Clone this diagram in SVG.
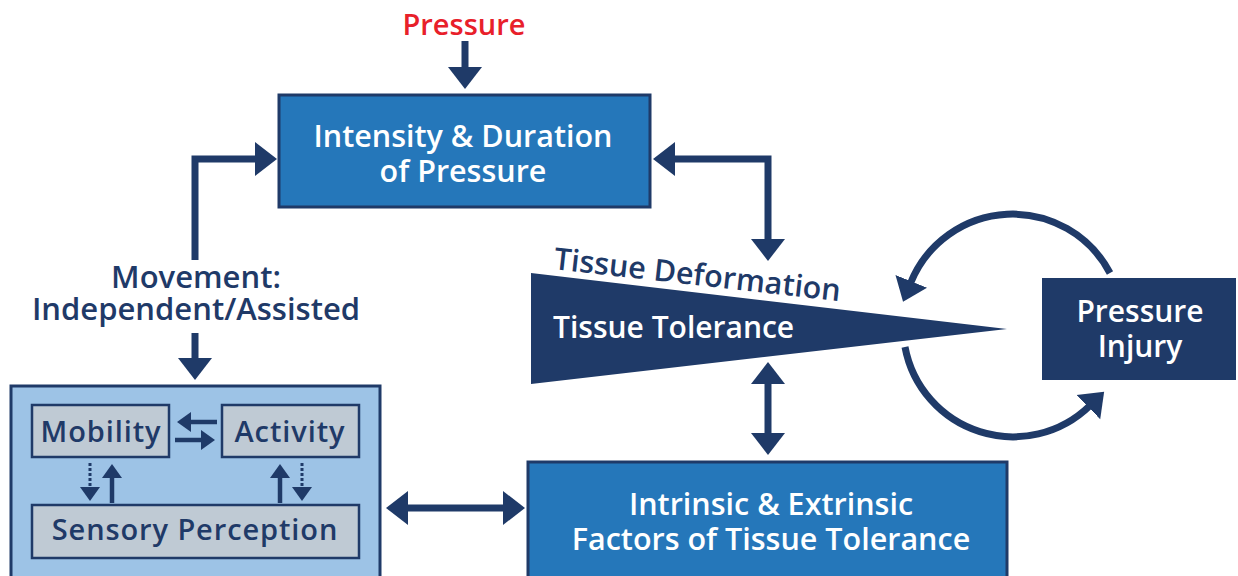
<svg xmlns="http://www.w3.org/2000/svg" width="1238" height="576" viewBox="0 0 1238 576">
<style>
.t{font-family:"Open Sans","Liberation Sans",sans-serif;font-weight:600;text-anchor:middle}
.w{fill:#ffffff}
.d{fill:#1f3a68}
.in{font-size:29px;letter-spacing:0.9px}
.blue{fill:#2577ba;stroke:#1f3a68;stroke-width:3}
.gray{fill:#bfcad4;stroke:#1f3a68;stroke-width:2.5}
.c{fill:none;stroke:#1f3a68;stroke-width:7;stroke-linejoin:miter}
.s{fill:none;stroke:#1f3a68;stroke-width:4.5}
.dot{fill:none;stroke:#1f3a68;stroke-width:3;stroke-dasharray:3 2}
</style>
<defs>
<marker id="ah" markerUnits="userSpaceOnUse" markerWidth="24" markerHeight="36" refX="2" refY="18" orient="auto-start-reverse">
<path d="M0,1 L22,18 L0,35 z" fill="#1f3a68"/>
</marker>
<marker id="as" markerUnits="userSpaceOnUse" markerWidth="16" markerHeight="22" refX="1" refY="11" orient="auto-start-reverse">
<path d="M0,1 L14,11 L0,21 z" fill="#1f3a68"/>
</marker>
</defs>
<rect width="1238" height="576" fill="#ffffff"/>

<g id="pressure-label">
<text class="t" x="464" y="35" font-size="29" fill="#e8202a">Pressure</text>
</g>

<g id="intensity">
<rect class="blue" x="279" y="95" width="371" height="112"/>
<text class="t w" x="463" y="147" font-size="30.5">Intensity &amp; Duration<tspan x="463" dy="35">of Pressure</tspan></text>
</g>

<g id="movement">
<text class="t d" x="196" y="288" font-size="31">Movement:<tspan x="196" dy="32">Independent/Assisted</tspan></text>
</g>

<g id="tissue">
<polygon points="531,273 1007,329 531,384" fill="#1f3a68"/>
<text class="t w" x="553" y="338" font-size="30" style="text-anchor:start">Tissue Tolerance</text>
<text class="t d" x="553" y="269" font-size="30.5" style="text-anchor:start" transform="rotate(6.4 553 269)">Tissue Deformation</text>
</g>

<g id="pressure-injury">
<rect x="1042" y="278" width="194" height="102" fill="#1f3a68"/>
<text class="t w" x="1140" y="322" font-size="30">Pressure<tspan x="1140" dy="35">Injury</tspan></text>
</g>

<g id="factors">
<rect class="blue" x="528" y="462" width="479" height="130"/>
<text class="t w" x="771" y="515" font-size="30.5">Intrinsic &amp; Extrinsic<tspan x="771" dy="35">Factors of Tissue Tolerance</tspan></text>
</g>

<g id="movement-box">
<rect x="11" y="386" width="369" height="210" fill="#9dc3e6" stroke="#1f3a68" stroke-width="3"/>
<g id="mobility">
<rect class="gray" x="32" y="405" width="137" height="52"/>
<text class="t d in" x="101" y="442">Mobility</text>
</g>
<g id="activity">
<rect class="gray" x="222" y="405" width="137" height="52"/>
<text class="t d in" x="290" y="442">Activity</text>
</g>
<g id="sensory">
<rect class="gray" x="32" y="505" width="327" height="53"/>
<text class="t d in" x="195" y="540">Sensory Perception</text>
</g>
</g>

<g id="connectors">
<path class="c" d="M465,41 V69" marker-end="url(#ah)"/>
<path class="c" d="M195,260 V159 H257" marker-end="url(#ah)"/>
<path class="c" d="M673,159 H768 V241" marker-start="url(#ah)" marker-end="url(#ah)"/>
<path class="c" d="M768,382 V435" marker-start="url(#ah)" marker-end="url(#ah)"/>
<path class="c" d="M406,508 H505" marker-start="url(#ah)" marker-end="url(#ah)"/>
<path class="c" d="M195,333 V360" marker-end="url(#ah)"/>
<path class="c" d="M1110,273 A110,110 0 0 0 910.5,283.2" stroke-width="6" marker-end="url(#ah)"/>
<path class="c" d="M905,347 A110,110 0 0 0 1089.8,405.7" stroke-width="6" marker-end="url(#ah)"/>
<path class="s" d="M217,422 H190" marker-end="url(#as)"/>
<path class="s" d="M175,440 H202" marker-end="url(#as)"/>
<path class="dot" d="M90,463 V488" marker-end="url(#as)"/>
<path class="s" d="M112,503 V477" marker-end="url(#as)"/>
<path class="s" d="M280,503 V477" marker-end="url(#as)"/>
<path class="dot" d="M302,463 V488" marker-end="url(#as)"/>
</g>
</svg>
